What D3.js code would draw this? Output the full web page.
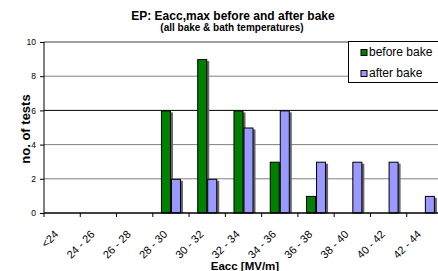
<!DOCTYPE html>
<html lang="en">
<head>
<meta charset="UTF-8">
<title>EP: Eacc,max before and after bake</title>
<script src="https://d3js.org/d3.v7.min.js"></script>
<style>
    body { margin: 0; background: #fff; font-family: "Liberation Sans", Arial, sans-serif; }
    svg { display: block; }
</style>
</head>
<body>
<svg id="chart" width="438" height="271"></svg>
<script>
    // data
    const categories = ["<24", "24 - 26", "26 - 28", "28 - 30", "30 - 32", "32 - 34",
                        "34 - 36", "36 - 38", "38 - 40", "40 - 42", "42 - 44"];
    const beforeBake = [0, 0, 0, 6, 9, 6, 3, 1, 0, 0, 0];
    const afterBake  = [0, 0, 0, 2, 2, 5, 6, 3, 3, 3, 1];
    const yTicks = [0, 2, 4, 6, 8, 10];
    const seriesNames = ["before bake", "after bake"];
    const colors = ["#008000", "#9999ff"];

    const svg = d3.select("#chart");
    const pLeft = 44, pRight = 443, pTop = 42, pBottom = 213;

    const x = d3.scaleBand().domain(categories).range([pLeft, pRight]);
    const inner = d3.scaleBand().domain([0, 1]).range([0, x.bandwidth()]).paddingOuter(0.81);
    const y = d3.scaleLinear().domain([0, 10]).range([pBottom, pTop]);

    // gridlines
    svg.append("g").selectAll("line")
        .data(yTicks.filter(d => d > 0))
        .join("line")
        .attr("x1", pLeft).attr("x2", pRight)
        .attr("y1", d => y(d)).attr("y2", d => y(d))
        .attr("stroke", d => d === 6 ? "#000" : "#808080")
        .attr("stroke-width", d => d === 10 ? 1.5 : 1);

    // bars
    const series = [beforeBake, afterBake];
    series.forEach((vals, s) => {
        const g = svg.append("g");
        const rows = categories.map((c, i) => ({c, v: vals[i]})).filter(d => d.v > 0);
        // shadow
        g.selectAll("rect.sh").data(rows).join("rect")
            .attr("class", "sh")
            .attr("x", d => x(d.c) + inner(s) + 2)
            .attr("y", d => y(d.v) + 2)
            .attr("width", inner.bandwidth())
            .attr("height", d => y(0) - y(d.v) - 2)
            .attr("fill", "#666");
        g.selectAll("rect.bar").data(rows).join("rect")
            .attr("class", "bar")
            .attr("x", d => x(d.c) + inner(s) + 0.5)
            .attr("y", d => y(d.v) + 0.5)
            .attr("width", inner.bandwidth() - 1)
            .attr("height", d => y(0) - y(d.v) - 0.5)
            .attr("fill", colors[s])
            .attr("stroke", "#000")
            .attr("stroke-width", 1);
    });

    // y axis
    const yAxis = svg.append("g")
        .attr("transform", `translate(${pLeft},0)`)
        .call(d3.axisLeft(y).tickValues(yTicks).tickSize(4).tickPadding(4));
    yAxis.select(".domain").attr("stroke", "#000").attr("d", `M0,${pTop}V${pBottom}`);
    yAxis.selectAll("text").attr("font-size", 8.5).attr("font-family", "Liberation Sans, Arial, sans-serif").attr("fill", "#000");

    // x axis with ticks between categories
    const xAxis = svg.append("g").attr("transform", `translate(0,${pBottom})`);
    xAxis.append("line").attr("x1", pLeft).attr("x2", pRight).attr("stroke", "#000").attr("stroke-width", 1.5);
    const edges = categories.map(c => x(c)).concat([x(categories[categories.length - 1]) + x.bandwidth()]);
    xAxis.selectAll("line.t").data(edges).join("line")
        .attr("class", "t")
        .attr("x1", d => d).attr("x2", d => d)
        .attr("y1", 0).attr("y2", 4)
        .attr("stroke", "#000");
    xAxis.selectAll("text").data(categories).join("text")
        .attr("transform", d => `translate(${x(d) + x.bandwidth() / 2 - 3},${22}) rotate(-45)`)
        .attr("text-anchor", "end")
        .attr("font-size", 11)
        .text(d => d);

    // titles
    svg.append("text").attr("x", 233).attr("y", 20).attr("text-anchor", "middle")
        .attr("font-size", 12).attr("font-weight", "bold").text("EP: Eacc,max before and after bake");
    svg.append("text").attr("x", 232).attr("y", 31).attr("text-anchor", "middle")
        .attr("font-size", 10).attr("font-weight", "bold").text("(all bake & bath temperatures)");
    svg.append("text").attr("transform", `translate(30,129) rotate(-90)`)
        .attr("text-anchor", "middle").attr("font-size", 13).attr("font-weight", "bold").text("no. of tests");
    svg.append("text").attr("x", 245).attr("y", 270).attr("text-anchor", "middle")
        .attr("font-size", 11.5).attr("font-weight", "bold").text("Eacc [MV/m]");

    // legend
    const lg = svg.append("g");
    lg.append("rect").attr("x", 348.5).attr("y", 41.5).attr("width", 100).attr("height", 41)
        .attr("fill", "#fff").attr("stroke", "#000");
    seriesNames.forEach((n, i) => {
        const yy = 56 + i * 21;
        lg.append("rect").attr("x", 361).attr("y", yy - 6.5).attr("width", 6).attr("height", 6)
            .attr("fill", colors[i]).attr("stroke", "#000");
        lg.append("text").attr("x", 369).attr("y", yy).attr("font-size", 12).text(n);
    });
</script>
</body>
</html>
